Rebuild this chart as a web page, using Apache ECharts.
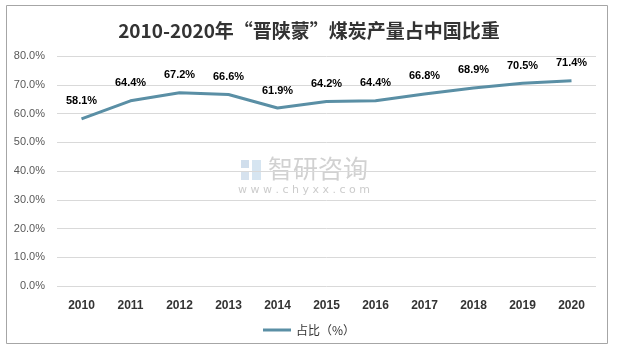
<!DOCTYPE html>
<html><head><meta charset="utf-8">
<script src="https://cdn.jsdelivr.net/npm/echarts@6/dist/echarts.min.js"></script>
<style>html,body{margin:0;padding:0;background:#fff}#c{width:618px;height:357px}</style>
</head><body><div id="c"></div>
<script>
var years = ['2010','2011','2012','2013','2014','2015','2016','2017','2018','2019','2020'];
var share = [58.1, 64.4, 67.2, 66.6, 61.9, 64.2, 64.4, 66.8, 68.9, 70.5, 71.4];
var seriesName = '占比（%）';
var titleText = '2010-2020年“晋陕蒙”煤炭产量占中国比重';

var chart = echarts.init(document.getElementById('c'));
chart.setOption({
  animation: false,
  backgroundColor: '#fff',
  title: {
    text: titleText, left: 'center', top: 16,
    textStyle: {fontSize: 19, fontWeight: 'bold', color: '#333', fontFamily: 'Noto Sans CJK SC'}
  },
  graphic: [
    {type: 'rect', shape: {x: 6.5, y: 5.5, width: 601, height: 338}, style: {fill: 'none', stroke: '#a6a6a6', lineWidth: 1}, silent: true},
    {type: 'rect', shape: {x: 241, y: 160, width: 8, height: 8}, style: {fill: 'rgba(120,160,200,0.35)'}, silent: true},
    {type: 'rect', shape: {x: 252, y: 160, width: 9, height: 20}, style: {fill: 'rgba(120,170,210,0.3)'}, silent: true},
    {type: 'rect', shape: {x: 241, y: 171, width: 8, height: 9}, style: {fill: 'rgba(120,160,200,0.3)'}, silent: true},
    {type: 'text', left: 268, top: 156, style: {text: '智研咨询', fontSize: 25, fill: 'rgba(140,140,140,0.4)', fontFamily: 'Noto Sans CJK SC'}, silent: true, z: 0},
    {type: 'text', left: 238, top: 185, style: {text: 'w w w . c h y x x . c o m', fontSize: 11, fill: 'rgba(140,140,140,0.45)', fontFamily: 'DejaVu Sans'}, silent: true, z: 0}
  ],
  legend: {
    bottom: 16, left: 'center', itemWidth: 28, itemHeight: 3, icon: 'rect',
    textStyle: {fontSize: 12, color: '#333', fontFamily: 'Noto Sans CJK SC'},
    data: [seriesName]
  },
  grid: {left: 57, right: 22, top: 56, bottom: 71},
  xAxis: {
    type: 'category', data: years, boundaryGap: true,
    axisLine: {show: false}, axisTick: {show: false},
    axisLabel: {fontSize: 12, fontWeight: 'bold', color: '#333', margin: 14, fontFamily: 'Liberation Sans'}
  },
  yAxis: {
    type: 'value', min: 0, max: 80, interval: 10,
    axisLine: {show: false}, axisTick: {show: false},
    axisLabel: {fontSize: 11, color: '#595959', margin: 12, formatter: function(v){return v.toFixed(1)+'%';}, fontFamily: 'Liberation Sans'},
    splitLine: {lineStyle: {color: '#d9d9d9', width: 1}}
  },
  series: [{
    name: seriesName, type: 'line', data: share,
    symbol: 'circle', symbolSize: 0, showSymbol: true, color: '#5a8fa5',
    lineStyle: {width: 3, color: '#5a8fa5'},
    label: {show: true, position: 'top', distance: 12, fontSize: 11, fontWeight: 'bold', color: '#000',
      formatter: function(p){return p.value.toFixed(1)+'%';}, fontFamily: 'Liberation Sans'}
  }]
});
</script></body></html>
